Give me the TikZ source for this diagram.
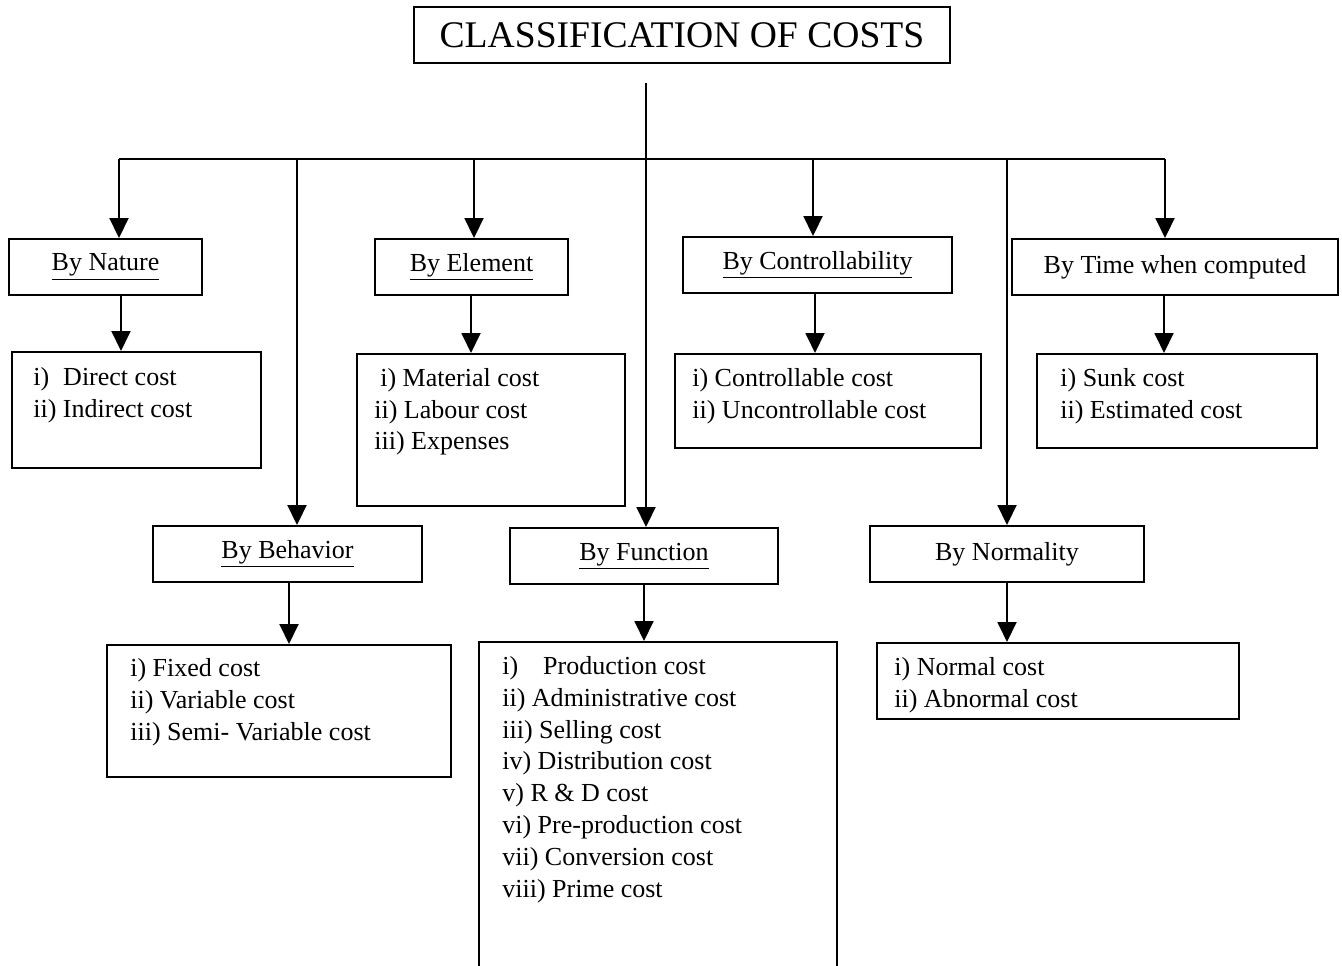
\documentclass[tikz,border=0pt]{standalone}
\usepackage{fontspec}
\setmainfont{Liberation Serif}
\usetikzlibrary{arrows.meta,positioning}
\tikzset{>={Triangle[length=0.4cm,width=0.38cm]}}
\tikzset{
  arr/.style={->,line width=1.1pt},
  headbox/.style={draw,line width=1.1pt,minimum height=1.12cm,inner sep=0pt,
    font=\fontsize{14.8}{18.1}\selectfont},
  listbox/.style={draw,line width=1.1pt,anchor=north west,inner sep=0pt},
  listtxt/.style={anchor=north west,inner sep=0pt,align=left,
    font=\fontsize{14.8}{18.1}\selectfont}
}

\begin{document}
\begin{tikzpicture}[x=0.02cm,y=-0.02cm]
          \useasboundingbox (0,0) rectangle (1342,966);
          \clip (0,0) rectangle (1342,966);
          % title and trunk
          \node[draw,line width=1.1pt,minimum width=10.72cm,minimum height=1.12cm,inner sep=0pt,
            font=\fontsize{21.4}{25}\selectfont] (title) at (682,35) {CLASSIFICATION OF COSTS};
          \coordinate (top) at (646,83);
          \coordinate (b1) at (119,159);
          \coordinate (b2) at (297,159);
          \coordinate (b3) at (474,159);
          \coordinate (b4) at (646,159);
          \coordinate (b5) at (813,159);
          \coordinate (b6) at (1007,159);
          \coordinate (b7) at (1165,159);
          % first row
          \node[headbox,minimum width=3.86cm] (nature) at (105.5,267) {\underline{By Nature}};
          \node[headbox,minimum width=3.86cm] (element) at (471.5,267) {\underline{By Element}};
          \node[headbox,minimum width=5.38cm] (control) at (817.5,265) {\underline{By Controllability}};
          \node[headbox,minimum width=6.52cm] (time) at (1175,267) {By Time when computed};
          % second row
          \node[headbox,minimum width=5.38cm] (behav) at (287.5,554) {\underline{By Behavior}};
          \node[headbox,minimum width=5.36cm] (func) at (644,556) {\underline{By Function}};
          \node[headbox,minimum width=5.48cm] (normal) at (1007,554) {By Normality};
          % lists
          \node[listbox,minimum width=4.98cm,minimum height=2.32cm] (natureL) at (11,351) {};
          \node[listbox,minimum width=5.36cm,minimum height=3.04cm] (elementL) at (356,353) {};
          \node[listbox,minimum width=6.12cm,minimum height=1.88cm] (controlL) at (674,353) {};
          \node[listbox,minimum width=5.60cm,minimum height=1.88cm] (timeL) at (1036,353) {};
          \node[listbox,minimum width=6.88cm,minimum height=2.64cm] (behavL) at (106,644) {};
          \node[listbox,minimum width=7.16cm,minimum height=6.80cm] (funcL) at (478,641) {};
          \node[listbox,minimum width=7.24cm,minimum height=1.52cm] (normalL) at (876,642) {};
          \node[listtxt] (natureT) at (33,367) {i)\hspace{0.28cm}Direct cost\\ii) Indirect cost};
          \node[listtxt] (elementT) at (374,368) {\hspace{0.12cm}i) Material cost\\ii) Labour cost\\iii) Expenses};
          \node[listtxt] (controlT) at (692,368) {i) Controllable cost\\ii) Uncontrollable cost};
          \node[listtxt] (timeT) at (1060,368) {i) Sunk cost\\ii) Estimated cost};
          \node[listtxt] (behavT) at (130,658) {i) Fixed cost\\ii) Variable cost\\iii) Semi- Variable cost};
          \node[listtxt] (funcT) at (502,656) {i)\hspace{0.5cm}Production cost\\ii) Administrative cost\\iii) Selling cost\\iv) Distribution cost\\v) R \& D cost\\vi) Pre-production cost\\vii) Conversion cost\\viii) Prime cost};
          \node[listtxt] (normalT) at (894,657) {i) Normal cost\\ii) Abnormal cost};
          % connectors
          \draw[line width=1.1pt] (b1) -- (b7);
          \draw[arr] (top) -- (top |- func.north);
          \draw[arr] (b1) -- (b1 |- nature.north);
          \draw[arr] (b2) -- (b2 |- behav.north);
          \draw[arr] (b3) -- (b3 |- element.north);
          \draw[arr] (b5) -- (b5 |- control.north);
          \draw[arr] (b6) -- (b6 |- normal.north);
          \draw[arr] (b7) -- (b7 |- time.north);
          \draw[arr] ([xshift=0.31cm]nature.south) -- ([xshift=0.31cm]nature.south |- natureL.north);
          \draw[arr] ([xshift=-0.01cm]element.south) -- ([xshift=-0.01cm]element.south |- elementL.north);
          \draw[arr] ([xshift=-0.05cm]control.south) -- ([xshift=-0.05cm]control.south |- controlL.north);
          \draw[arr] ([xshift=-0.22cm]time.south) -- ([xshift=-0.22cm]time.south |- timeL.north);
          \draw[arr] ([xshift=0.03cm]behav.south) -- ([xshift=0.03cm]behav.south |- behavL.north);
          \draw[arr] (func.south) -- (func.south |- funcL.north);
          \draw[arr] (normal.south) -- (normal.south |- normalL.north);
        \end{tikzpicture}
\end{document}
